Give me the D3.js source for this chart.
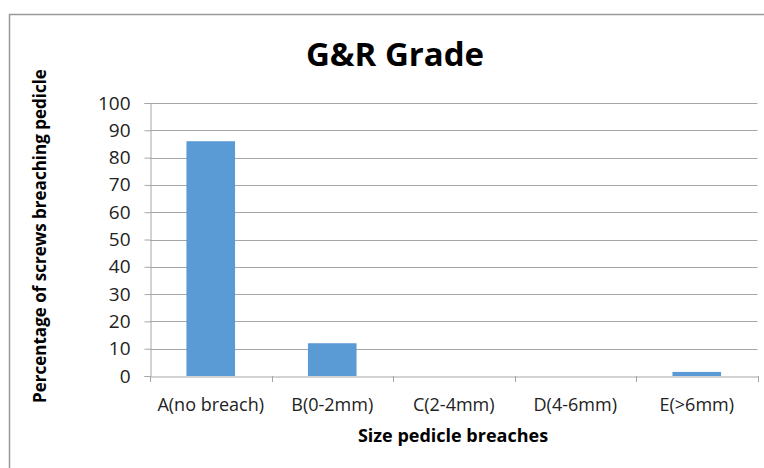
<!DOCTYPE html>
<html>
<head>
<meta charset="utf-8">
<script src="https://cdn.jsdelivr.net/npm/d3@7"></script>
<style>
body{margin:0;background:#fff;}
</style>
</head>
<body>
<svg id="chart" width="764" height="468"></svg>
<script>
var categories=["A(no breach)","B(0-2mm)","C(2-4mm)","D(4-6mm)","E(>6mm)"];
var values=[86,12,0,0,1.5];
var yTicks=[0,10,20,30,40,50,60,70,80,90,100];

var svg=d3.select("#chart");
var margin={left:150,right:6.5,top:103,bottom:92};
var W=764,H=468;

// chart frame
svg.append("path")
    .attr("d","M9.5,468 V14.5 H764")
    .attr("fill","none")
    .attr("stroke","#999")
    .attr("stroke-width",1.5);

var xb=d3.scaleBand().domain(categories).range([margin.left,W-margin.right]);
var y=d3.scaleLinear().domain([0,100]).range([H-margin.bottom,margin.top]);

// gridlines
svg.append("g").selectAll("line")
    .data(yTicks.slice(1))
    .enter().append("line")
    .attr("x1",margin.left).attr("x2",W-margin.right)
    .attr("y1",function(d){return Math.round(y(d))+0.5})
    .attr("y2",function(d){return Math.round(y(d))+0.5})
    .attr("stroke","#a6a6a6").attr("stroke-width",1);

// bars
svg.append("g").selectAll("rect")
    .data(values)
    .enter().append("rect")
    .attr("x",function(d,i){return xb(categories[i])+xb.bandwidth()*0.3})
    .attr("width",xb.bandwidth()*0.4)
    .attr("y",function(d){return y(d)})
    .attr("height",function(d){return y(0)-y(d)})
    .attr("fill","#5b9bd5");

// y axis
var yAxis=svg.append("g")
    .attr("transform","translate("+(margin.left+0.5)+",0)")
    .call(d3.axisLeft(y).tickValues(yTicks).tickSize(6).tickPadding(14));
yAxis.select(".domain").attr("stroke","#a6a6a6");
yAxis.selectAll(".tick line").attr("stroke","#a6a6a6");
yAxis.selectAll("text")
    .attr("font-family","Open Sans, sans-serif")
    .attr("font-size",19).attr("fill","#222");

// x axis
var xAxis=svg.append("g")
    .attr("transform","translate(0,"+(Math.round(y(0))+0.5)+")")
    .call(d3.axisBottom(xb).tickSize(0).tickPadding(22));
xAxis.select(".domain").attr("stroke","#a6a6a6");
xAxis.selectAll("text")
    .attr("font-family","Open Sans, sans-serif")
    .attr("font-size",18).attr("fill","#222");
// category boundary ticks
svg.append("g").selectAll("line")
    .data(categories.concat(["end"]))
    .enter().append("line")
    .attr("x1",function(d,i){return Math.round(i<categories.length?xb(d):W-margin.right)+0.5})
    .attr("x2",function(d,i){return Math.round(i<categories.length?xb(d):W-margin.right)+0.5})
    .attr("y1",y(0)).attr("y2",y(0)+6)
    .attr("stroke","#a6a6a6");

// title
svg.append("text")
    .attr("x",395).attr("y",66)
    .attr("text-anchor","middle")
    .attr("font-family","Open Sans, sans-serif")
    .attr("font-weight","bold")
    .attr("font-size",33)
    .text("G&R Grade");

// axis titles
svg.append("text")
    .attr("transform","translate(46,236) rotate(-90)")
    .attr("text-anchor","middle")
    .attr("font-family","Open Sans, sans-serif")
    .attr("font-weight","bold")
    .attr("font-size",17)
    .text("Percentage of screws breaching pedicle");

svg.append("text")
    .attr("x",453).attr("y",442)
    .attr("text-anchor","middle")
    .attr("font-family","Open Sans, sans-serif")
    .attr("font-weight","bold")
    .attr("font-size",18)
    .text("Size pedicle breaches");
</script>
</body>
</html>
